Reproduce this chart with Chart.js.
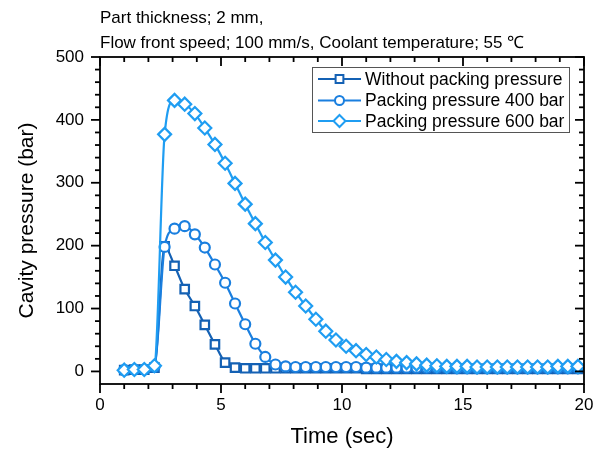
<!DOCTYPE html>
<html>
<head>
<meta charset="utf-8">
<script src="https://cdn.jsdelivr.net/npm/chart.js@4.4.0/dist/chart.umd.min.js"></script>
<style>
  html, body { margin: 0; padding: 0; background: #fff; }
</style>
</head>
<body>
<canvas id="chart" width="594" height="450"></canvas>
<script>
// cavity pressure traces, sampled every 5/12 s
const timeSec = [1.00, 1.42, 1.83, 2.25, 2.67, 3.08, 3.50, 3.92, 4.33, 4.75, 5.17, 5.58,
  6.00, 6.42, 6.83, 7.25, 7.67, 8.08, 8.50, 8.92, 9.33, 9.75, 10.17, 10.58, 11.00, 11.42,
  11.83, 12.25, 12.67, 13.08, 13.50, 13.92, 14.33, 14.75, 15.17, 15.58, 16.00, 16.42,
  16.83, 17.25, 17.67, 18.08, 18.50, 18.92, 19.33, 19.75];
const noPacking = [2, 3, 3, 6, 199, 168, 131, 104, 74, 43, 14, 6,
  5, 5, 5, 5, 5, 5, 5, 5, 5, 5, 5, 5, 4, 4,
  4, 4, 4, 4, 4, 4, 4, 4, 4, 4, 4, 4,
  4, 4, 4, 4, 4, 4, 4, 4];
const packing400 = [2, 3, 3, 7, 198, 227, 231, 218, 197, 170, 141, 108,
  75, 44, 23, 11, 8, 7, 7, 7, 7, 7, 7, 7, 6, 6,
  6, 6, 6, 6, 6, 6, 6, 5, 5, 5, 5, 5,
  5, 5, 5, 5, 5, 5, 5, 5];
const packing600 = [2, 3, 3, 9, 377, 431, 425, 410, 387, 361, 331, 299,
  266, 235, 205, 177, 150, 126, 104, 83, 64, 50, 40, 33, 27, 23,
  19, 16, 14, 12, 10, 9, 8, 8, 8, 7, 7, 7,
  7, 7, 7, 7, 7, 8, 8, 8];
const seriesNames = ["Without packing pressure", "Packing pressure 400 bar", "Packing pressure 600 bar"];
const xTickValues = [0, 5, 10, 15, 20];
const yTickValues = [0, 100, 200, 300, 400, 500];
const noteLines = ["Part thickness; 2 mm,", "Flow front speed; 100 mm/s, Coolant temperature; 55 \u2103"];

const FONT = "'Liberation Sans', Arial, sans-serif";

function toPoints(values) {
  return timeSec.map((t, i) => ({ x: t, y: values[i] }));
}

function makeSeries(label, values, color, style, radius, order) {
  return {
    label,
    data: toPoints(values),
    borderColor: color,
    backgroundColor: color,
    borderWidth: 2.2,
    pointStyle: style,
    pointRadius: radius,
    pointHoverRadius: radius,
    pointBorderWidth: 2.2,
    pointBackgroundColor: "#ffffff",
    pointBorderColor: color,
    cubicInterpolationMode: "monotone",
    order
  };
}

// simple marker drawing for the legend box
function drawMarker(ctx, style, x, y, r) {
  ctx.beginPath();
  if (style === "circle") {
    ctx.arc(x, y, r, 0, Math.PI * 2);
  } else if (style === "rect") {
    const s = r * Math.SQRT1_2;
    ctx.rect(x - s, y - s, 2 * s, 2 * s);
  } else {
    ctx.moveTo(x, y - r);
    ctx.lineTo(x + r, y);
    ctx.lineTo(x, y + r);
    ctx.lineTo(x - r, y);
    ctx.closePath();
  }
  ctx.fill();
  ctx.stroke();
}

const noteText = {
  id: "noteText",
  afterDraw(chart) {
    const ctx = chart.ctx;
    ctx.save();
    ctx.fillStyle = "#000";
    ctx.font = "17px " + FONT;
    ctx.textBaseline = "middle";
    ctx.textAlign = "left";
    ctx.fillText(noteLines[0], 100, 18);
    ctx.fillText(noteLines[1], 100, 43);
    ctx.restore();
  }
};

const frameTicks = {
  id: "frameTicks",
  afterDatasetsDraw(chart) {
    const { ctx, chartArea: a, scales: { x, y } } = chart;
    const seg = (x1, y1, x2, y2) => {
      ctx.beginPath();
      ctx.moveTo(x1, y1);
      ctx.lineTo(x2, y2);
      ctx.stroke();
    };
    ctx.save();
    ctx.strokeStyle = "#000";
    ctx.lineWidth = 1.8;
    ctx.strokeRect(a.left, a.top, a.right - a.left, a.bottom - a.top);
    for (let v = 0; v <= 20; v += 1) {
      const px = x.getPixelForValue(v);
      const len = v % 5 === 0 ? 9 : 5;
      seg(px, a.bottom, px, a.bottom + len);
      seg(px, a.top, px, a.top + len);
    }
    for (let v = 0; v <= 500; v += 20) {
      const py = y.getPixelForValue(v);
      const len = v % 100 === 0 ? 9 : 5;
      seg(a.left, py, a.left - len, py);
      seg(a.right, py, a.right - len, py);
    }
    ctx.restore();
  }
};

const legendBox = {
  id: "legendBox",
  afterDatasetsDraw(chart) {
    const ctx = chart.ctx;
    const left = 312, top = 67, width = 257, height = 65;
    const rows = [79, 100.5, 121];
    ctx.save();
    ctx.fillStyle = "#fff";
    ctx.fillRect(left, top, width, height);
    ctx.strokeStyle = "#555";
    ctx.lineWidth = 1;
    ctx.strokeRect(left + 0.5, top + 0.5, width, height);
    chart.data.datasets.forEach((ds, i) => {
      const yy = rows[i];
      ctx.strokeStyle = ds.borderColor;
      ctx.lineWidth = 2;
      ctx.beginPath();
      ctx.moveTo(318, yy);
      ctx.lineTo(361, yy);
      ctx.stroke();
      ctx.fillStyle = "#fff";
      drawMarker(ctx, ds.pointStyle, 339.5, yy, ds.pointRadius - 0.5);
      ctx.fillStyle = "#000";
      ctx.font = "17.5px " + FONT;
      ctx.textBaseline = "middle";
      ctx.fillText(ds.label, 365, yy + 1);
    });
    ctx.restore();
  }
};

new Chart(document.getElementById("chart"), {
  type: "line",
  data: {
    datasets: [
      makeSeries(seriesNames[0], noPacking, "#1461b4", "rect", 6, 2),
      makeSeries(seriesNames[1], packing400, "#1a7fdf", "circle", 5, 1),
      makeSeries(seriesNames[2], packing600, "#1f9df2", "rectRot", 6.5, 0)
    ]
  },
  options: {
    responsive: false,
    animation: false,
    layout: { padding: { top: 57, right: 10, left: 0, bottom: 0 } },
    plugins: {
      legend: { display: false },
      tooltip: { enabled: false }
    },
    scales: {
      x: {
        type: "linear",
        min: 0,
        max: 20,
        afterBuildTicks: s => { s.ticks = xTickValues.map(v => ({ value: v })); },
        afterFit: s => { s.height = 66; s.paddingLeft = 0; s.paddingRight = 0; },
        grid: { display: false },
        border: { display: false },
        ticks: { color: "#000", font: { family: FONT, size: 17 }, padding: 3, maxRotation: 0 },
        title: {
          display: true,
          text: "Time (sec)",
          color: "#000",
          font: { family: FONT, size: 22 },
          padding: { top: 0, bottom: 0 }
        }
      },
      y: {
        type: "linear",
        min: -20,
        max: 500,
        afterBuildTicks: s => { s.ticks = yTickValues.map(v => ({ value: v })); },
        afterFit: s => { s.width = 100; s.paddingTop = 0; s.paddingBottom = 0; },
        grid: { display: false },
        border: { display: false },
        ticks: { color: "#000", font: { family: FONT, size: 17 }, padding: 8 },
        title: {
          display: true,
          text: "Cavity pressure (bar)",
          color: "#000",
          font: { family: FONT, size: 21 },
          padding: { top: 15, bottom: 0 }
        }
      }
    }
  },
  plugins: [frameTicks, legendBox, noteText]
});
</script>
</body>
</html>
